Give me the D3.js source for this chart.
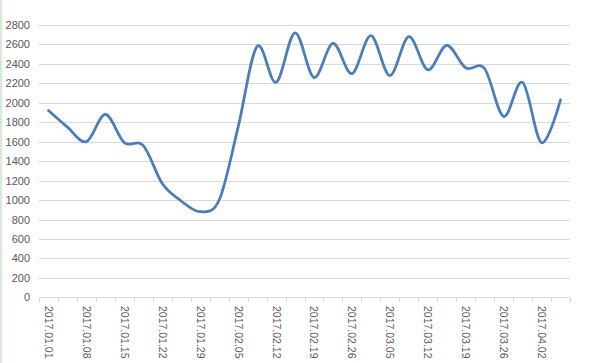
<!DOCTYPE html>
<html>
<head>
<meta charset="utf-8">
<script src="https://cdn.jsdelivr.net/npm/d3@7"></script>
<style>
body { margin: 0; background: #fff; }
svg { display: block; }
</style>
</head>
<body>
<div id="main_div"></div>
<script>
// two points a week; only the Sunday dates get a label
var dates = ["2017.01.01","2017.01.04","2017.01.08","2017.01.11","2017.01.15","2017.01.18",
    "2017.01.22","2017.01.25","2017.01.29","2017.02.01","2017.02.05","2017.02.08",
    "2017.02.12","2017.02.15","2017.02.19","2017.02.22","2017.02.26","2017.03.01",
    "2017.03.05","2017.03.08","2017.03.12","2017.03.15","2017.03.19","2017.03.22",
    "2017.03.26","2017.03.29","2017.04.02","2017.04.05"];
var values = [1920, 1750, 1600, 1880, 1590, 1560, 1170, 990, 880, 1000, 1750, 2580,
    2210, 2720, 2260, 2610, 2300, 2690, 2280, 2680, 2340, 2590, 2360, 2350,
    1860, 2210, 1590, 2030];
var y_ticks = [0, 200, 400, 600, 800, 1000, 1200, 1400, 1600, 1800, 2000, 2200, 2400, 2600, 2800];

var width = 603, height = 363;
var svg = d3.select("#main_div").append("svg").attr("width", width).attr("height", height);

// thin green strip on the left edge
svg.append("rect").attr("x", 0).attr("y", 0).attr("width", 2).attr("height", height).attr("fill", "#d6ead6");

var x_scale = d3.scaleBand().domain(dates).range([39, 570]).padding(0);
var y_scale = d3.scaleLinear().domain([0, 2800]).range([297.3, 25]);

// gridlines
svg.append("g").selectAll("line").data(y_ticks.slice(1)).enter().append("line")
    .attr("x1", 39).attr("x2", 570)
    .attr("y1", function(d) { return Math.round(y_scale(d)) + 0.5; })
    .attr("y2", function(d) { return Math.round(y_scale(d)) + 0.5; })
    .attr("stroke", "#d9d9d9").attr("stroke-width", 1);

// y labels
svg.append("g").selectAll("text").data(y_ticks).enter().append("text")
    .attr("x", 30)
    .attr("y", function(d) { return y_scale(d) + 4; })
    .attr("text-anchor", "end")
    .attr("font-family", "Liberation Sans, Arial, sans-serif")
    .attr("font-size", "11px")
    .attr("fill", "#595959")
    .text(function(d) { return d; });

// x axis line + ticks between categories
var y0 = Math.round(y_scale(0)) + 0.5;
svg.append("line").attr("x1", 39).attr("x2", 570).attr("y1", y0).attr("y2", y0)
    .attr("stroke", "#d9d9d9");
var tick_x = dates.map(function(d) { return x_scale(d); }).concat([570]);
svg.append("g").selectAll("line").data(tick_x).enter().append("line")
    .attr("x1", function(d) { return Math.round(d) + 0.5; })
    .attr("x2", function(d) { return Math.round(d) + 0.5; })
    .attr("y1", y0).attr("y2", y0 + 5)
    .attr("stroke", "#d9d9d9");

// x labels, every other category, rotated
svg.append("g").selectAll("text").data(dates.filter(function(d, i) { return i % 2 === 0; }))
    .enter().append("text")
    .attr("transform", function(d) {
        return "translate(" + (x_scale(d) + x_scale.bandwidth() / 2 - 3.5) + ",306) rotate(90)";
    })
    .attr("font-family", "Liberation Sans, Arial, sans-serif")
    .attr("font-size", "10.5px")
    .attr("fill", "#595959")
    .text(function(d) { return d; });

// smoothed line
var line = d3.line()
    .x(function(d, i) { return x_scale(dates[i]) + x_scale.bandwidth() / 2; })
    .y(function(d) { return y_scale(d); })
    .curve(d3.curveCardinal.tension(0));

svg.append("path").datum(values)
    .attr("d", line)
    .attr("fill", "none")
    .attr("stroke", "#4a7ebb")
    .attr("stroke-width", 2.75)
    .attr("stroke-linecap", "round")
    .attr("stroke-linejoin", "round");
</script>
</body>
</html>
